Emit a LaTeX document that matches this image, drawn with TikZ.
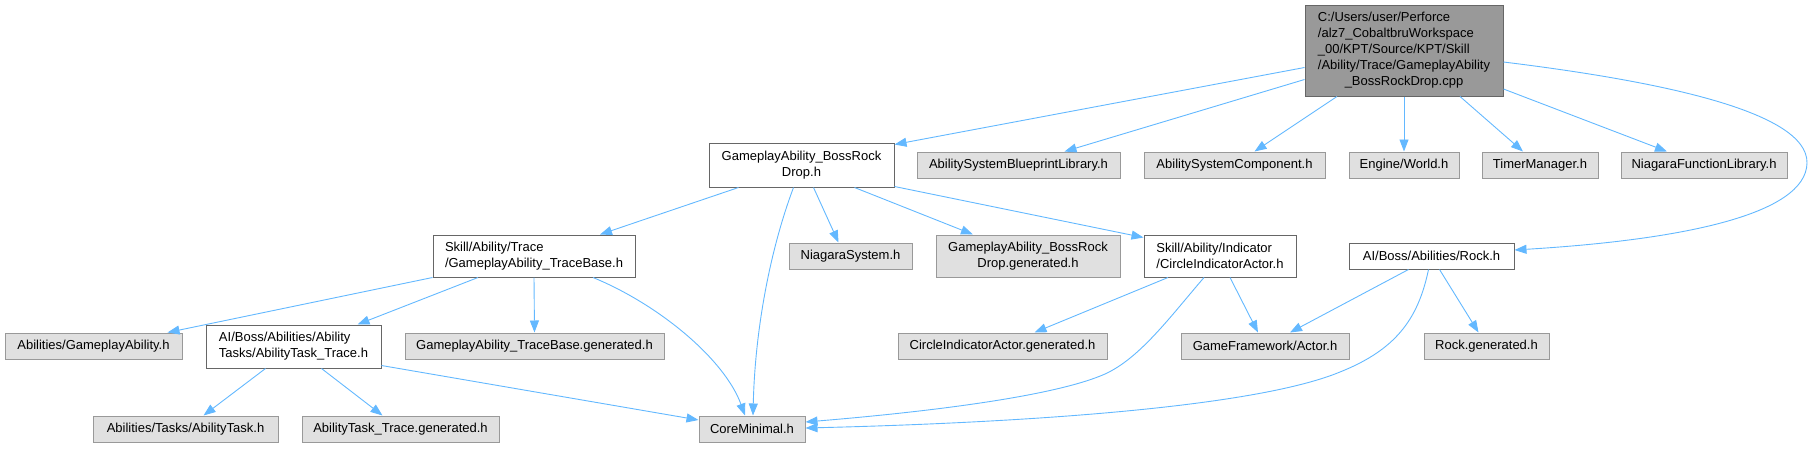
\documentclass[tikz,border=0pt]{standalone}
\usepackage{fontspec}
\setmainfont{Liberation Sans}
\usepackage{tikz}
\usetikzlibrary{arrows.meta,positioning,calc}
\definecolor{dxEdge}  {RGB}{ 99,184,255}
\definecolor{dxGrey}  {RGB}{102,102,102}
\definecolor{dxGreyM} {RGB}{153,153,153}
\definecolor{dxGreyXL}{RGB}{224,224,224}

\begin{document}
\begin{tikzpicture}[
  x=1pt,y=-1pt,
  every node/.style={font=\fontsize{13}{16}\selectfont,inner sep=0pt},
  src/.style={draw=dxGrey,fill=dxGreyM,line width=1pt,minimum width=198pt,minimum height=91pt},
  hdr/.style={draw=dxGrey,fill=white,line width=1pt,align=left,minimum height=26pt},
  ext/.style={draw=dxGreyM,fill=dxGreyXL,line width=1pt,align=center,minimum height=26pt},
  dep/.style={draw=dxEdge,line width=0.9pt,-{Triangle[length=12pt,width=9pt]}}
]
\useasboundingbox (0,0) rectangle (1813,448);

% source file
\node[src] (SRC) at (1404,50.5) {\begin{tabular}{@{}l@{}}C:/Users/user/Perforce\\/alz7\_CobaltbruWorkspace\\\_00/KPT/Source/KPT/Skill\\/Ability/Trace/GameplayAbility\\\multicolumn{1}{@{}c@{}}{\_BossRockDrop.cpp}\end{tabular}};

% first row
\node[hdr,align=center,minimum width=185pt,minimum height=44pt] (BRD) at (801.5,165) {GameplayAbility\_BossRock\\Drop.h};
\node[ext,minimum width=203pt] (ASBL) at (1018.5,165) {AbilitySystemBlueprintLibrary.h};
\node[ext,minimum width=181pt] (ASC)  at (1234.5,165) {AbilitySystemComponent.h};
\node[ext,minimum width=110pt] (WLD)  at (1404,165)   {Engine/World.h};
\node[ext,minimum width=116pt] (TMR)  at (1540,165)   {TimerManager.h};
\node[ext,minimum width=166pt] (NFL)  at (1704,165)   {NiagaraFunctionLibrary.h};

% second row
\node[hdr,minimum width=202pt,minimum height=42pt] (TB) at (534,256) {Skill/Ability/Trace\\/GameplayAbility\_TraceBase.h};
\node[ext,minimum width=123pt] (NS) at (850.5,256) {NiagaraSystem.h};
\node[ext,minimum width=184pt,minimum height=42pt] (BRDG) at (1028,256) {GameplayAbility\_BossRock\\Drop.generated.h};
\node[hdr,minimum width=152pt,minimum height=42pt] (CIA) at (1220,256) {Skill/Ability/Indicator\\/CircleIndicatorActor.h};
\node[hdr,minimum width=165pt] (ROCK) at (1431.5,256) {AI/Boss/Abilities/Rock.h};

% third row
\node[ext,minimum width=177pt] (GA) at (93.5,346) {Abilities/GameplayAbility.h};
\node[hdr,minimum width=175pt,minimum height=43pt] (ATT) at (293.5,346.5) {AI/Boss/Abilities/Ability\\Tasks/AbilityTask\_Trace.h};
\node[ext,minimum width=259pt] (TBG)   at (534.5,346)  {GameplayAbility\_TraceBase.generated.h};
\node[ext,minimum width=209pt] (CIAG)  at (1002.5,346) {CircleIndicatorActor.generated.h};
\node[ext,minimum width=168pt] (ACT)   at (1265,346)   {GameFramework/Actor.h};
\node[ext,minimum width=125pt] (ROCKG) at (1486.5,346) {Rock.generated.h};

% fourth row
\node[ext,minimum width=185pt] (AT)   at (185.5,429) {Abilities/Tasks/AbilityTask.h};
\node[ext,minimum width=197pt] (ATTG) at (400.5,429) {AbilityTask\_Trace.generated.h};
\node[ext,minimum width=106pt] (CORE) at (752,429)   {CoreMinimal.h};

% from the source file
\draw[dep] ([yshift=-17pt]SRC.west) -- ([yshift=-2pt]BRD.north east);
\draw[dep] ([yshift=-29pt]SRC.west) -- ([xshift=46pt]ASBL.north);
\draw[dep] ([xshift=-67pt]SRC.south) -- ([xshift=20pt]ASC.north);
\draw[dep] (SRC.south) -- (WLD.north);
\draw[dep] ([xshift=56pt]SRC.south) -- ([xshift=-17pt]TMR.north);
\draw[dep] ([yshift=-38.5pt]SRC.east) -- ([xshift=-37pt]NFL.north);
\draw[dep] ([yshift=-11.5pt]SRC.east) .. controls (1650,80) and (1808,110) .. (1807,163)
  .. controls (1806,215) and (1680,240) .. ([yshift=6pt]ROCK.east);

% from BossRockDrop.h
\draw[dep] ([xshift=-63pt]BRD.south) -- ([xshift=66pt]TB.north);
\draw[dep] ([xshift=-8pt]BRD.south) .. controls (770,250) and (755,330) .. ([xshift=1pt]CORE.north);
\draw[dep] ([xshift=12pt]BRD.south) -- ([xshift=-12pt]NS.north);
\draw[dep] ([xshift=53pt]BRD.south) -- ([xshift=-55pt]BRDG.north);
\draw[dep] ([yshift=1pt]BRD.south east) -- ([yshift=-3pt]CIA.north west);

% from the trace base
\draw[dep] (TB.south west) -- ([xshift=74pt]GA.north);
\draw[dep] ([xshift=-56pt]TB.south) -- ([xshift=64pt]ATT.north);
\draw[dep] (TB.south) -- (TBG.north);
\draw[dep] ([xshift=59pt]TB.south) .. controls (660,305) and (725,360) .. ([xshift=-7pt]CORE.north);

% from the ability task
\draw[dep] ([xshift=-28pt]ATT.south) -- ([xshift=18pt]AT.north);
\draw[dep] ([xshift=28pt]ATT.south) -- ([xshift=-18pt]ATTG.north);
\draw[dep] ([yshift=3pt]ATT.south east) -- ([yshift=9pt]CORE.west);

% from the indicator actor
\draw[dep] ([xshift=-52pt]CIA.south) -- ([xshift=32pt]CIAG.north);
\draw[dep] ([xshift=-16pt]CIA.south) .. controls (1170,317) and (1140,358) .. (1105,374)
  .. controls (1060,394) and (950,410) .. ([yshift=7pt]CORE.east);
\draw[dep] ([xshift=10pt]CIA.south) -- ([xshift=-7pt]ACT.north);

% from Rock.h
\draw[dep] ([xshift=-23pt]ROCK.south) -- ([xshift=25pt]ACT.north);
\draw[dep] ([xshift=-3pt]ROCK.south) .. controls (1418,320) and (1395,350) .. (1340,372)
  .. controls (1260,405) and (1050,422) .. ([yshift=1pt]CORE.east);
\draw[dep] ([xshift=8pt]ROCK.south) -- ([xshift=-8pt]ROCKG.north);
\end{tikzpicture}
\end{document}
